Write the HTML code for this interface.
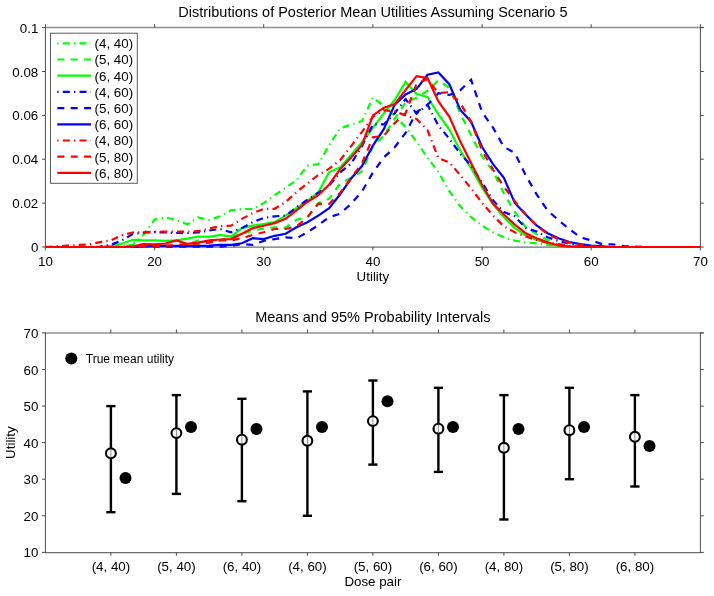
<!DOCTYPE html>
<html lang="en"><head><meta charset="utf-8"><title>Posterior Mean Utilities</title>
<style>html,body{margin:0;padding:0;background:#fff;}svg{display:block;}text{font-family:'Liberation Sans', Arial, Helvetica, sans-serif;fill:#000;}</style>
</head><body>
<svg width="714" height="596" viewBox="0 0 714 596">
<rect x="0" y="0" width="714" height="596" fill="#ffffff"/>
<g stroke="#909090" stroke-width="1.5" fill="none">
<line x1="44.9" y1="27.6" x2="703.8" y2="27.6"/>
</g>
<line x1="44.9" y1="247.2" x2="700.9" y2="247.2" stroke="#6e6e6e" stroke-width="1.2"/>
<g stroke="#4d4d4d" stroke-width="1" fill="none">
<line x1="45.4" y1="27.1" x2="45.4" y2="247.5"/>
<line x1="700.4" y1="27.1" x2="700.4" y2="247.5"/>
<line x1="45.4" y1="247.0" x2="45.4" y2="250.4"/>
<line x1="45.4" y1="27.6" x2="45.4" y2="24.2"/>
<line x1="154.6" y1="247.0" x2="154.6" y2="250.4"/>
<line x1="154.6" y1="27.6" x2="154.6" y2="24.2"/>
<line x1="263.7" y1="247.0" x2="263.7" y2="250.4"/>
<line x1="263.7" y1="27.6" x2="263.7" y2="24.2"/>
<line x1="372.9" y1="247.0" x2="372.9" y2="250.4"/>
<line x1="372.9" y1="27.6" x2="372.9" y2="24.2"/>
<line x1="482.1" y1="247.0" x2="482.1" y2="250.4"/>
<line x1="482.1" y1="27.6" x2="482.1" y2="24.2"/>
<line x1="591.2" y1="247.0" x2="591.2" y2="250.4"/>
<line x1="591.2" y1="27.6" x2="591.2" y2="24.2"/>
<line x1="700.4" y1="247.0" x2="700.4" y2="250.4"/>
<line x1="700.4" y1="27.6" x2="700.4" y2="24.2"/>
<line x1="45.4" y1="247.0" x2="42.0" y2="247.0"/>
<line x1="700.4" y1="247.0" x2="703.8" y2="247.0"/>
<line x1="45.4" y1="203.1" x2="42.0" y2="203.1"/>
<line x1="700.4" y1="203.1" x2="703.8" y2="203.1"/>
<line x1="45.4" y1="159.2" x2="42.0" y2="159.2"/>
<line x1="700.4" y1="159.2" x2="703.8" y2="159.2"/>
<line x1="45.4" y1="115.4" x2="42.0" y2="115.4"/>
<line x1="700.4" y1="115.4" x2="703.8" y2="115.4"/>
<line x1="45.4" y1="71.5" x2="42.0" y2="71.5"/>
<line x1="700.4" y1="71.5" x2="703.8" y2="71.5"/>
<line x1="45.4" y1="27.6" x2="42.0" y2="27.6"/>
<line x1="700.4" y1="27.6" x2="703.8" y2="27.6"/>
</g>
<text x="372.9" y="17" font-size="14.5" text-anchor="middle">Distributions of Posterior Mean Utilities Assuming Scenario 5</text>
<text x="45.4" y="266" font-size="13.33" text-anchor="middle">10</text>
<text x="154.6" y="266" font-size="13.33" text-anchor="middle">20</text>
<text x="263.7" y="266" font-size="13.33" text-anchor="middle">30</text>
<text x="372.9" y="266" font-size="13.33" text-anchor="middle">40</text>
<text x="482.1" y="266" font-size="13.33" text-anchor="middle">50</text>
<text x="591.2" y="266" font-size="13.33" text-anchor="middle">60</text>
<text x="700.4" y="266" font-size="13.33" text-anchor="middle">70</text>
<text x="38.3" y="252.0" font-size="13.33" text-anchor="end">0</text>
<text x="38.3" y="208.1" font-size="13.33" text-anchor="end">0.02</text>
<text x="38.3" y="164.2" font-size="13.33" text-anchor="end">0.04</text>
<text x="38.3" y="120.4" font-size="13.33" text-anchor="end">0.06</text>
<text x="38.3" y="76.5" font-size="13.33" text-anchor="end">0.08</text>
<text x="38.3" y="32.6" font-size="13.33" text-anchor="end">0.1</text>
<text x="372.9" y="281.2" font-size="13.33" text-anchor="middle">Utility</text>
<g fill="none" stroke-width="2.20" stroke-linejoin="miter" stroke-linecap="butt">
<polyline stroke="#00ff00" stroke-dasharray="7 4.2 1.3 4.2" points="45.4,247.0 56.3,247.0 67.2,247.0 78.2,247.0 89.1,247.0 100.0,247.0 110.9,246.6 121.8,245.9 132.7,244.8 143.7,234.5 154.6,219.6 165.5,217.4 176.4,220.2 187.3,224.2 198.2,217.4 209.2,219.8 220.1,216.3 231.0,210.4 241.9,209.0 252.8,209.0 263.7,203.1 274.6,195.2 285.6,187.8 296.5,180.1 307.4,165.8 318.3,164.1 329.2,145.0 340.1,128.5 351.1,124.4 362.0,121.1 372.9,97.6 383.8,105.9 394.7,116.0 405.6,127.0 416.6,141.7 427.5,157.9 438.4,172.0 449.3,191.1 460.2,206.2 471.1,217.2 482.1,225.5 493.0,232.3 503.9,237.3 514.8,240.6 525.7,242.4 536.6,243.3 547.6,244.8 558.5,245.9 569.4,246.6 580.3,247.0 591.2,247.0 602.1,247.0 613.1,247.0 624.0,247.0 634.9,247.0 645.8,247.0 656.7,247.0 667.6,247.0 678.6,247.0 689.5,247.0 700.4,247.0"/>
<polyline stroke="#00ff00" stroke-dasharray="7 6.4" points="45.4,247.0 56.3,247.0 67.2,247.0 78.2,247.0 89.1,247.0 100.0,247.0 110.9,247.0 121.8,247.0 132.7,245.2 143.7,244.4 154.6,245.2 165.5,245.9 176.4,245.7 187.3,244.8 198.2,240.4 209.2,241.5 220.1,240.4 231.0,237.3 241.9,233.8 252.8,230.5 263.7,228.6 274.6,227.3 285.6,227.7 296.5,219.8 307.4,217.2 318.3,203.1 329.2,198.7 340.1,183.6 351.1,177.9 362.0,171.1 372.9,146.7 383.8,135.8 394.7,118.7 405.6,102.2 416.6,97.8 427.5,90.8 438.4,80.3 449.3,87.9 460.2,113.2 471.1,135.3 482.1,156.4 493.0,171.1 503.9,193.5 514.8,212.1 525.7,227.3 536.6,234.1 547.6,240.0 558.5,244.8 569.4,246.1 580.3,247.0 591.2,247.0 602.1,247.0 613.1,247.0 624.0,247.0 634.9,247.0 645.8,247.0 656.7,247.0 667.6,247.0 678.6,247.0 689.5,247.0 700.4,247.0"/>
<polyline stroke="#00ff00" points="45.4,247.0 56.3,247.0 67.2,247.0 78.2,247.0 89.1,247.0 100.0,247.0 110.9,245.9 121.8,243.7 132.7,239.8 143.7,240.4 154.6,240.4 165.5,240.9 176.4,240.4 187.3,238.7 198.2,236.5 209.2,236.9 220.1,234.9 231.0,236.5 241.9,228.1 252.8,225.7 263.7,224.0 274.6,222.2 285.6,215.6 296.5,207.9 307.4,200.9 318.3,192.2 329.2,172.0 340.1,167.6 351.1,155.1 362.0,142.3 372.9,127.9 383.8,113.4 394.7,100.0 405.6,81.8 416.6,94.1 427.5,96.9 438.4,114.3 449.3,129.6 460.2,150.5 471.1,168.0 482.1,187.8 493.0,204.4 503.9,217.2 514.8,228.1 525.7,235.6 536.6,240.0 547.6,243.3 558.5,245.9 569.4,247.0 580.3,247.0 591.2,247.0 602.1,247.0 613.1,247.0 624.0,247.0 634.9,247.0 645.8,247.0 656.7,247.0 667.6,247.0 678.6,247.0 689.5,247.0 700.4,247.0"/>
<polyline stroke="#0000ff" stroke-dasharray="7 4.2 1.3 4.2" points="45.4,247.0 56.3,247.0 67.2,247.0 78.2,247.0 89.1,247.0 100.0,246.6 110.9,244.8 121.8,240.4 132.7,234.1 143.7,232.5 154.6,232.1 165.5,232.5 176.4,233.0 187.3,233.0 198.2,232.5 209.2,230.5 220.1,229.0 231.0,232.3 241.9,228.1 252.8,222.2 263.7,218.0 274.6,216.3 285.6,215.6 296.5,207.5 307.4,199.6 318.3,192.8 329.2,185.6 340.1,172.4 351.1,163.6 362.0,146.1 372.9,124.4 383.8,124.4 394.7,113.2 405.6,99.1 416.6,113.6 427.5,104.8 438.4,125.7 449.3,138.6 460.2,153.8 471.1,165.6 482.1,182.7 493.0,200.3 503.9,212.1 514.8,216.3 525.7,228.1 536.6,231.4 547.6,237.3 558.5,240.9 569.4,243.7 580.3,245.2 591.2,246.3 602.1,247.0 613.1,247.0 624.0,247.0 634.9,247.0 645.8,247.0 656.7,247.0 667.6,247.0 678.6,247.0 689.5,247.0 700.4,247.0"/>
<polyline stroke="#0000ff" stroke-dasharray="7 6.4" points="45.4,247.0 56.3,247.0 67.2,247.0 78.2,247.0 89.1,247.0 100.0,247.0 110.9,247.0 121.8,247.0 132.7,247.0 143.7,247.0 154.6,246.6 165.5,246.6 176.4,246.6 187.3,246.6 198.2,246.6 209.2,246.6 220.1,246.6 231.0,245.9 241.9,244.1 252.8,244.8 263.7,240.9 274.6,239.1 285.6,237.3 296.5,238.2 307.4,232.3 318.3,225.1 329.2,217.2 340.1,213.7 351.1,203.8 362.0,191.3 372.9,172.6 383.8,157.5 394.7,147.2 405.6,132.9 416.6,112.1 427.5,105.0 438.4,93.2 449.3,95.0 460.2,90.3 471.1,79.8 482.1,112.1 493.0,127.6 503.9,147.0 514.8,152.9 525.7,175.3 536.6,194.3 547.6,210.6 558.5,220.2 569.4,229.2 580.3,237.3 591.2,240.4 602.1,244.1 613.1,244.4 624.0,246.1 634.9,246.6 645.8,247.0 656.7,247.0 667.6,247.0 678.6,247.0 689.5,247.0 700.4,247.0"/>
<polyline stroke="#0000ff" points="45.4,247.0 56.3,247.0 67.2,247.0 78.2,247.0 89.1,247.0 100.0,247.0 110.9,247.0 121.8,247.0 132.7,247.0 143.7,246.6 154.6,245.9 165.5,245.9 176.4,245.9 187.3,245.9 198.2,245.9 209.2,245.7 220.1,244.8 231.0,244.8 241.9,243.3 252.8,238.2 263.7,239.1 274.6,235.8 285.6,233.8 296.5,227.3 307.4,222.2 318.3,215.6 329.2,208.2 340.1,194.3 351.1,178.5 362.0,166.0 372.9,145.6 383.8,129.2 394.7,104.6 405.6,94.5 416.6,89.0 427.5,74.8 438.4,72.4 449.3,84.2 460.2,109.7 471.1,121.7 482.1,147.0 493.0,164.1 503.9,177.9 514.8,202.9 525.7,214.5 536.6,225.5 547.6,233.2 558.5,238.2 569.4,242.0 580.3,244.1 591.2,245.5 602.1,246.3 613.1,247.0 624.0,247.0 634.9,247.0 645.8,247.0 656.7,247.0 667.6,247.0 678.6,247.0 689.5,247.0 700.4,247.0"/>
<polyline stroke="#ff0000" stroke-dasharray="7 4.2 1.3 4.2" points="45.4,247.0 56.3,246.3 67.2,245.7 78.2,245.0 89.1,244.4 100.0,242.2 110.9,240.4 121.8,235.2 132.7,232.5 143.7,232.1 154.6,231.6 165.5,231.6 176.4,231.6 187.3,231.6 198.2,231.2 209.2,228.4 220.1,226.2 231.0,225.7 241.9,218.9 252.8,213.0 263.7,209.0 274.6,208.8 285.6,202.0 296.5,192.2 307.4,183.4 318.3,175.0 329.2,168.7 340.1,160.1 351.1,146.1 362.0,131.8 372.9,116.9 383.8,110.1 394.7,111.4 405.6,115.4 416.6,118.9 427.5,130.1 438.4,158.1 449.3,162.3 460.2,175.0 471.1,188.4 482.1,202.9 493.0,215.4 503.9,226.4 514.8,232.3 525.7,236.5 536.6,240.0 547.6,242.6 558.5,244.1 569.4,245.7 580.3,246.6 591.2,247.0 602.1,247.0 613.1,247.0 624.0,247.0 634.9,247.0 645.8,247.0 656.7,247.0 667.6,247.0 678.6,247.0 689.5,247.0 700.4,247.0"/>
<polyline stroke="#ff0000" stroke-dasharray="7 6.4" points="45.4,247.0 56.3,247.0 67.2,247.0 78.2,247.0 89.1,247.0 100.0,247.0 110.9,247.0 121.8,247.0 132.7,247.0 143.7,247.0 154.6,246.3 165.5,245.9 176.4,244.8 187.3,244.4 198.2,243.7 209.2,242.6 220.1,240.4 231.0,240.4 241.9,238.2 252.8,234.9 263.7,232.3 274.6,229.0 285.6,229.0 296.5,226.4 307.4,217.2 318.3,203.8 329.2,203.8 340.1,193.0 351.1,177.9 362.0,163.4 372.9,137.3 383.8,135.8 394.7,123.0 405.6,113.2 416.6,83.5 427.5,79.2 438.4,93.2 449.3,92.1 460.2,102.9 471.1,121.7 482.1,150.5 493.0,169.6 503.9,186.9 514.8,201.1 525.7,214.5 536.6,225.5 547.6,234.1 558.5,239.1 569.4,242.6 580.3,244.8 591.2,246.1 602.1,247.0 613.1,247.0 624.0,247.0 634.9,247.0 645.8,247.0 656.7,247.0 667.6,247.0 678.6,247.0 689.5,247.0 700.4,247.0"/>
<polyline stroke="#ff0000" points="45.4,247.0 56.3,247.0 67.2,247.0 78.2,247.0 89.1,247.0 100.0,247.0 110.9,247.0 121.8,247.0 132.7,246.3 143.7,244.1 154.6,244.4 165.5,243.5 176.4,240.4 187.3,243.9 198.2,242.6 209.2,240.4 220.1,239.5 231.0,239.1 241.9,233.8 252.8,228.1 263.7,225.7 274.6,223.1 285.6,218.9 296.5,210.4 307.4,202.0 318.3,195.2 329.2,184.5 340.1,169.3 351.1,157.5 362.0,145.0 372.9,115.4 383.8,107.7 394.7,104.2 405.6,89.9 416.6,76.1 427.5,78.1 438.4,101.5 449.3,116.5 460.2,141.2 471.1,163.0 482.1,185.1 493.0,203.6 503.9,214.5 514.8,224.6 525.7,233.2 536.6,238.2 547.6,242.4 558.5,245.5 569.4,246.6 580.3,247.0 591.2,247.0 602.1,247.0 613.1,247.0 624.0,247.0 634.9,247.0 645.8,247.0 656.7,247.0 667.6,247.0 678.6,247.0 689.5,247.0 700.4,247.0"/>
</g>
<rect x="50.5" y="33.2" width="86.8" height="150.1" fill="#ffffff" stroke="#5a5a5a" stroke-width="1"/>
<g fill="none" stroke-width="2.20">
<line x1="57.3" y1="43.3" x2="91" y2="43.3" stroke="#00ff00" stroke-dasharray="1.3 4.2 7 4.2"/>
<line x1="57.3" y1="59.5" x2="91" y2="59.5" stroke="#00ff00" stroke-dasharray="7 6.4"/>
<line x1="57.3" y1="75.7" x2="91" y2="75.7" stroke="#00ff00"/>
<line x1="57.3" y1="91.9" x2="91" y2="91.9" stroke="#0000ff" stroke-dasharray="1.3 4.2 7 4.2"/>
<line x1="57.3" y1="108.1" x2="91" y2="108.1" stroke="#0000ff" stroke-dasharray="7 6.4"/>
<line x1="57.3" y1="124.3" x2="91" y2="124.3" stroke="#0000ff"/>
<line x1="57.3" y1="140.5" x2="91" y2="140.5" stroke="#ff0000" stroke-dasharray="1.3 4.2 7 4.2"/>
<line x1="57.3" y1="156.7" x2="91" y2="156.7" stroke="#ff0000" stroke-dasharray="7 6.4"/>
<line x1="57.3" y1="172.9" x2="91" y2="172.9" stroke="#ff0000"/>
</g>
<text x="94.6" y="48.1" font-size="13.33">(4, 40)</text>
<text x="94.6" y="64.3" font-size="13.33">(5, 40)</text>
<text x="94.6" y="80.5" font-size="13.33">(6, 40)</text>
<text x="94.6" y="96.7" font-size="13.33">(4, 60)</text>
<text x="94.6" y="112.9" font-size="13.33">(5, 60)</text>
<text x="94.6" y="129.1" font-size="13.33">(6, 60)</text>
<text x="94.6" y="145.3" font-size="13.33">(4, 80)</text>
<text x="94.6" y="161.5" font-size="13.33">(5, 80)</text>
<text x="94.6" y="177.7" font-size="13.33">(6, 80)</text>
<g stroke="#909090" stroke-width="1.5" fill="none">
<line x1="44.9" y1="332.9" x2="703.8" y2="332.9"/>
</g>
<line x1="44.9" y1="552.6" x2="700.9" y2="552.6" stroke="#6e6e6e" stroke-width="1.2"/>
<g stroke="#4d4d4d" stroke-width="1" fill="none">
<line x1="45.4" y1="332.4" x2="45.4" y2="552.9"/>
<line x1="700.4" y1="332.4" x2="700.4" y2="552.9"/>
<line x1="110.9" y1="552.4" x2="110.9" y2="555.8"/>
<line x1="110.9" y1="332.9" x2="110.9" y2="329.5"/>
<line x1="176.4" y1="552.4" x2="176.4" y2="555.8"/>
<line x1="176.4" y1="332.9" x2="176.4" y2="329.5"/>
<line x1="241.9" y1="552.4" x2="241.9" y2="555.8"/>
<line x1="241.9" y1="332.9" x2="241.9" y2="329.5"/>
<line x1="307.4" y1="552.4" x2="307.4" y2="555.8"/>
<line x1="307.4" y1="332.9" x2="307.4" y2="329.5"/>
<line x1="372.9" y1="552.4" x2="372.9" y2="555.8"/>
<line x1="372.9" y1="332.9" x2="372.9" y2="329.5"/>
<line x1="438.4" y1="552.4" x2="438.4" y2="555.8"/>
<line x1="438.4" y1="332.9" x2="438.4" y2="329.5"/>
<line x1="503.9" y1="552.4" x2="503.9" y2="555.8"/>
<line x1="503.9" y1="332.9" x2="503.9" y2="329.5"/>
<line x1="569.4" y1="552.4" x2="569.4" y2="555.8"/>
<line x1="569.4" y1="332.9" x2="569.4" y2="329.5"/>
<line x1="634.9" y1="552.4" x2="634.9" y2="555.8"/>
<line x1="634.9" y1="332.9" x2="634.9" y2="329.5"/>
<line x1="45.4" y1="552.4" x2="42.0" y2="552.4"/>
<line x1="700.4" y1="552.4" x2="703.8" y2="552.4"/>
<line x1="45.4" y1="515.8" x2="42.0" y2="515.8"/>
<line x1="700.4" y1="515.8" x2="703.8" y2="515.8"/>
<line x1="45.4" y1="479.2" x2="42.0" y2="479.2"/>
<line x1="700.4" y1="479.2" x2="703.8" y2="479.2"/>
<line x1="45.4" y1="442.6" x2="42.0" y2="442.6"/>
<line x1="700.4" y1="442.6" x2="703.8" y2="442.6"/>
<line x1="45.4" y1="406.1" x2="42.0" y2="406.1"/>
<line x1="700.4" y1="406.1" x2="703.8" y2="406.1"/>
<line x1="45.4" y1="369.5" x2="42.0" y2="369.5"/>
<line x1="700.4" y1="369.5" x2="703.8" y2="369.5"/>
<line x1="45.4" y1="332.9" x2="42.0" y2="332.9"/>
<line x1="700.4" y1="332.9" x2="703.8" y2="332.9"/>
</g>
<text x="372.9" y="322" font-size="14.5" text-anchor="middle">Means and 95% Probability Intervals</text>
<text x="38.3" y="557.4" font-size="13.33" text-anchor="end">10</text>
<text x="38.3" y="520.8" font-size="13.33" text-anchor="end">20</text>
<text x="38.3" y="484.2" font-size="13.33" text-anchor="end">30</text>
<text x="38.3" y="447.6" font-size="13.33" text-anchor="end">40</text>
<text x="38.3" y="411.1" font-size="13.33" text-anchor="end">50</text>
<text x="38.3" y="374.5" font-size="13.33" text-anchor="end">60</text>
<text x="38.3" y="337.9" font-size="13.33" text-anchor="end">70</text>
<text x="110.9" y="571.3" font-size="13.33" text-anchor="middle">(4, 40)</text>
<text x="176.4" y="571.3" font-size="13.33" text-anchor="middle">(5, 40)</text>
<text x="241.9" y="571.3" font-size="13.33" text-anchor="middle">(6, 40)</text>
<text x="307.4" y="571.3" font-size="13.33" text-anchor="middle">(4, 60)</text>
<text x="372.9" y="571.3" font-size="13.33" text-anchor="middle">(5, 60)</text>
<text x="438.4" y="571.3" font-size="13.33" text-anchor="middle">(6, 60)</text>
<text x="503.9" y="571.3" font-size="13.33" text-anchor="middle">(4, 80)</text>
<text x="569.4" y="571.3" font-size="13.33" text-anchor="middle">(5, 80)</text>
<text x="634.9" y="571.3" font-size="13.33" text-anchor="middle">(6, 80)</text>
<text x="372.9" y="586.3" font-size="13.33" text-anchor="middle">Dose pair</text>
<text transform="translate(15.2,442.6) rotate(-90)" font-size="13.33" text-anchor="middle">Utility</text>
<g stroke="#000" stroke-width="2.4" fill="none">
<line x1="110.9" y1="406.1" x2="110.9" y2="512.2"/>
<line x1="106.3" y1="406.1" x2="115.5" y2="406.1"/>
<line x1="106.3" y1="512.2" x2="115.5" y2="512.2"/>
<line x1="176.4" y1="395.1" x2="176.4" y2="493.9"/>
<line x1="171.8" y1="395.1" x2="181.0" y2="395.1"/>
<line x1="171.8" y1="493.9" x2="181.0" y2="493.9"/>
<line x1="241.9" y1="398.8" x2="241.9" y2="501.2"/>
<line x1="237.3" y1="398.8" x2="246.5" y2="398.8"/>
<line x1="237.3" y1="501.2" x2="246.5" y2="501.2"/>
<line x1="307.4" y1="391.4" x2="307.4" y2="515.8"/>
<line x1="302.8" y1="391.4" x2="312.0" y2="391.4"/>
<line x1="302.8" y1="515.8" x2="312.0" y2="515.8"/>
<line x1="372.9" y1="380.5" x2="372.9" y2="464.6"/>
<line x1="368.3" y1="380.5" x2="377.5" y2="380.5"/>
<line x1="368.3" y1="464.6" x2="377.5" y2="464.6"/>
<line x1="438.4" y1="387.8" x2="438.4" y2="471.9"/>
<line x1="433.8" y1="387.8" x2="443.0" y2="387.8"/>
<line x1="433.8" y1="471.9" x2="443.0" y2="471.9"/>
<line x1="503.9" y1="395.1" x2="503.9" y2="519.5"/>
<line x1="499.3" y1="395.1" x2="508.5" y2="395.1"/>
<line x1="499.3" y1="519.5" x2="508.5" y2="519.5"/>
<line x1="569.4" y1="387.8" x2="569.4" y2="479.2"/>
<line x1="564.8" y1="387.8" x2="574.0" y2="387.8"/>
<line x1="564.8" y1="479.2" x2="574.0" y2="479.2"/>
<line x1="634.9" y1="395.1" x2="634.9" y2="486.5"/>
<line x1="630.3" y1="395.1" x2="639.5" y2="395.1"/>
<line x1="630.3" y1="486.5" x2="639.5" y2="486.5"/>
</g>
<circle cx="110.9" cy="453.3" r="4.9" fill="#fff" stroke="#000" stroke-width="2.1"/>
<line x1="110.9" y1="449.3" x2="110.9" y2="457.3" stroke="#8a8a8a" stroke-width="1"/>
<circle cx="125.5" cy="478.1" r="6" fill="#000"/>
<circle cx="176.4" cy="433.1" r="4.9" fill="#fff" stroke="#000" stroke-width="2.1"/>
<line x1="176.4" y1="429.1" x2="176.4" y2="437.1" stroke="#8a8a8a" stroke-width="1"/>
<circle cx="191.0" cy="426.9" r="6" fill="#000"/>
<circle cx="241.9" cy="439.7" r="4.9" fill="#fff" stroke="#000" stroke-width="2.1"/>
<line x1="241.9" y1="435.7" x2="241.9" y2="443.7" stroke="#8a8a8a" stroke-width="1"/>
<circle cx="256.5" cy="429.1" r="6" fill="#000"/>
<circle cx="307.4" cy="440.8" r="4.9" fill="#fff" stroke="#000" stroke-width="2.1"/>
<line x1="307.4" y1="436.8" x2="307.4" y2="444.8" stroke="#8a8a8a" stroke-width="1"/>
<circle cx="322.0" cy="426.9" r="6" fill="#000"/>
<circle cx="372.9" cy="421.1" r="4.9" fill="#fff" stroke="#000" stroke-width="2.1"/>
<line x1="372.9" y1="417.1" x2="372.9" y2="425.1" stroke="#8a8a8a" stroke-width="1"/>
<circle cx="387.5" cy="401.3" r="6" fill="#000"/>
<circle cx="438.4" cy="428.7" r="4.9" fill="#fff" stroke="#000" stroke-width="2.1"/>
<line x1="438.4" y1="424.7" x2="438.4" y2="432.7" stroke="#8a8a8a" stroke-width="1"/>
<circle cx="453.0" cy="426.9" r="6" fill="#000"/>
<circle cx="503.9" cy="447.8" r="4.9" fill="#fff" stroke="#000" stroke-width="2.1"/>
<line x1="503.9" y1="443.8" x2="503.9" y2="451.8" stroke="#8a8a8a" stroke-width="1"/>
<circle cx="518.5" cy="429.1" r="6" fill="#000"/>
<circle cx="569.4" cy="430.2" r="4.9" fill="#fff" stroke="#000" stroke-width="2.1"/>
<line x1="569.4" y1="426.2" x2="569.4" y2="434.2" stroke="#8a8a8a" stroke-width="1"/>
<circle cx="584.0" cy="426.9" r="6" fill="#000"/>
<circle cx="634.9" cy="436.8" r="4.9" fill="#fff" stroke="#000" stroke-width="2.1"/>
<line x1="634.9" y1="432.8" x2="634.9" y2="440.8" stroke="#8a8a8a" stroke-width="1"/>
<circle cx="649.5" cy="445.9" r="6" fill="#000"/>
<circle cx="71.3" cy="358.5" r="6" fill="#000"/>
<text x="85.8" y="362.8" font-size="12">True mean utility</text>
</svg></body></html>
